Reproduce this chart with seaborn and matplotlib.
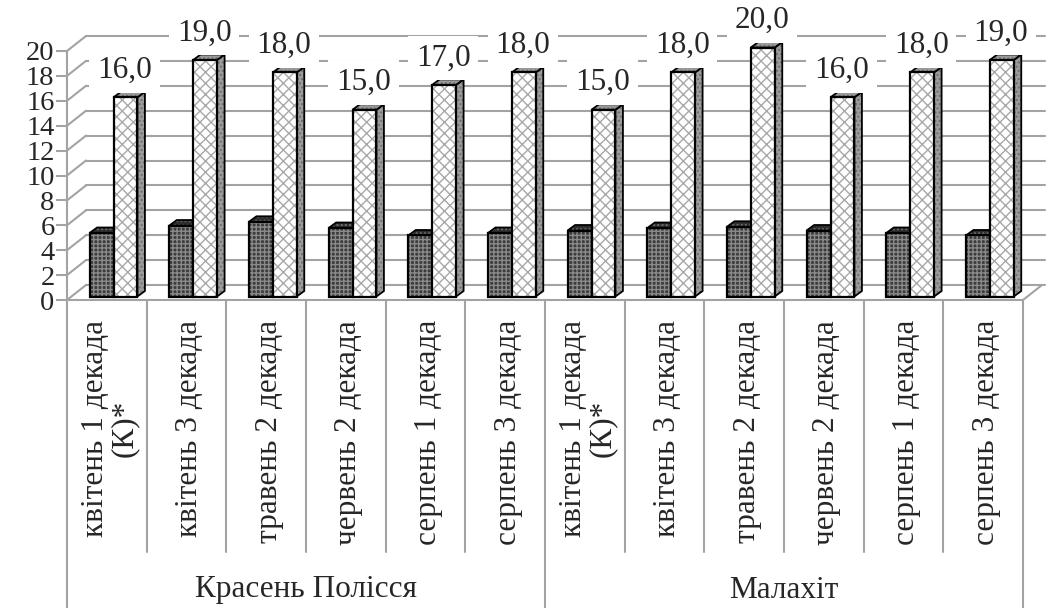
import numpy as np
import pandas as pd
import matplotlib
matplotlib.use("Agg")
import matplotlib.pyplot as plt
import matplotlib.transforms as mtransforms
from matplotlib.patches import Polygon, Rectangle
from matplotlib.lines import Line2D
import seaborn as sns

# ---- data ----
varieties = ["Красень Полісся", "Малахіт"]
periods = ["квітень 1 декада\n(К)*", "квітень 3 декада", "травень 2 декада",
           "червень 2 декада", "серпень 1 декада", "серпень 3 декада"]
series_names = ["Показник 1", "Показник 2"]
values_dark = [5.1, 5.7, 6.0, 5.5, 4.9, 5.1, 5.3, 5.5, 5.6, 5.3, 5.1, 4.9]
values_light = [16.0, 19.0, 18.0, 15.0, 17.0, 18.0, 15.0, 18.0, 20.0, 16.0, 18.0, 19.0]
y_ticks = list(range(0, 21, 2))

# long-form table for seaborn
keys = [f"{v}|{p}" for v in varieties for p in periods]
df = pd.DataFrame({
    "key": keys * 2,
    "series": [series_names[0]] * len(keys) + [series_names[1]] * len(keys),
    "value": values_dark + values_light,
})

sns.set_theme(style="white")
plt.rcParams["font.family"] = ["Liberation Serif", "DejaVu Serif"]

W, H, DPI = 1049, 608, 100
fig = plt.figure(figsize=(W / DPI, H / DPI), dpi=DPI)
ax = fig.add_axes([67 / W, (H - 300) / H, 956 / W, 249 / H])

sns.barplot(data=df, x="key", y="value", hue="series", order=keys,
            hue_order=series_names, palette=["#3a3a3a", "#ffffff"],
            width=0.6, legend=False, ax=ax, zorder=3)

n = len(keys)
x0 = -0.584
ax.set_xlim(x0, x0 + n)
ax.set_ylim(0, 20)
ax.set_yticks(y_ticks)
ax.set_yticklabels([str(t) for t in y_ticks], fontsize=20.5)
ax.set_xticks([])
ax.set_xlabel("")
ax.set_ylabel("")
for s in ["top", "right", "bottom"]:
    ax.spines[s].set_visible(False)
grid_c = "#a3a3a3"
ax.spines["left"].set_color(grid_c)
ax.spines["left"].set_linewidth(1.5)
ax.tick_params(axis="y", length=8, width=1.5, color=grid_c, pad=1, left=True)
ax.patch.set_alpha(0)

fig.canvas.draw()
ident = mtransforms.IdentityTransform()


def disp(x, y, dx=0.0, dy=0.0):
    px, py = ax.transData.transform((x, y))
    return px + dx, py + dy


# depth of the back wall in pixels
DX, DY = 19, 15
x_end_data = x0 + n
right_px = disp(x_end_data, 0)[0]

# back-wall gridlines and side-wall diagonals
for v in y_ticks:
    a = disp(x0, v)
    b = disp(x0, v, DX, DY)
    fig.add_artist(Line2D([a[0], b[0]], [a[1], b[1]], transform=ident,
                          color=grid_c, lw=1.5, zorder=1))
    fig.add_artist(Line2D([b[0], right_px + DX + 3], [b[1], b[1]], transform=ident,
                          color=grid_c, lw=1.5, zorder=1))

# floor front edge and right edge
f0 = disp(x0, 0)
f1 = disp(x_end_data, 0)
fig.add_artist(Line2D([f0[0], f1[0], f1[0] + DX], [f0[1], f1[1], f1[1] + DY],
                      transform=ident, color=grid_c, lw=1.5, zorder=2))

# 3D bar faces
BAR_SHIFT = 3.5  # bars stand slightly behind the front edge
SIDE, TOP = 7.5, 5.5
styles = {
    0: dict(face="#3c3c3c", hatch="++++", hcol="#8a8a8a", side="#5a5a5a", top="#2e2e2e"),
    1: dict(face="#ffffff", hatch="xxx", hcol="#a8a8a8", side="#9c9c9c", top="#9a9a9a"),
}
bars = [p for p in ax.patches if isinstance(p, Rectangle) and p.get_height() > 0]
bars = sorted(bars, key=lambda p: p.get_x())
for p in bars:
    p.set_visible(False)

for p in bars:
    x, w, h = p.get_x(), p.get_width(), p.get_height()
    fc = p.get_facecolor()
    sidx = 0 if fc[0] < 0.5 else 1
    st = styles[sidx]
    bl = disp(x, 0, 0, BAR_SHIFT)
    tr = disp(x + w, h, 0, BAR_SHIFT)
    # side face
    side = [(tr[0], bl[1]), (tr[0] + SIDE, bl[1] + TOP), (tr[0] + SIDE, tr[1] + TOP), (tr[0], tr[1])]
    # top face
    top = [(bl[0], tr[1]), (tr[0], tr[1]), (tr[0] + SIDE, tr[1] + TOP), (bl[0] + SIDE, tr[1] + TOP)]
    front = [(bl[0], bl[1]), (tr[0], bl[1]), (tr[0], tr[1]), (bl[0], tr[1])]
    zb = 4 if sidx == 0 else 5
    for poly, col in [(side, st["side"]), (top, st["top"])]:
        fig.add_artist(Polygon(poly, closed=True, transform=ident, facecolor=col,
                               edgecolor="none", zorder=zb))
        fig.add_artist(Polygon(poly, closed=True, transform=ident, fill=False,
                               hatch="....", edgecolor="#6e6e6e", lw=0, zorder=zb))
        fig.add_artist(Polygon(poly, closed=True, transform=ident, fill=False,
                               edgecolor="black", lw=1.3, zorder=zb))
    fig.add_artist(Polygon(front, closed=True, transform=ident, facecolor=st["face"],
                           edgecolor="none", zorder=zb))
    fig.add_artist(Polygon(front, closed=True, transform=ident, fill=False,
                           hatch=st["hatch"], edgecolor=st["hcol"], lw=0, zorder=zb))
    fig.add_artist(Polygon(front, closed=True, transform=ident, fill=False,
                           edgecolor="black", lw=1.6, zorder=zb))
    if sidx == 1:
        cx = (bl[0] + tr[0]) / 2 - 1
        fig.text(cx, tr[1] + 27, f"{h:.1f}".replace(".", ","), transform=ident,
                 ha="center", va="center", fontsize=22.5, zorder=6,
                 bbox=dict(boxstyle="square,pad=0.25", facecolor="white", edgecolor="none"))

# category axis: dividers, rotated labels, group labels
ytop_px = disp(x0, 0)[1]
for k in range(n + 1):
    xb = disp(x0 + k, 0)[0]
    bottom = 0 if k % len(periods) == 0 else ytop_px - 252
    fig.add_artist(Line2D([xb, xb], [ytop_px, bottom], transform=ident,
                          color=grid_c, lw=1.5, zorder=2))

for k in range(n):
    xc = disp(x0 + k + 0.5, 0)[0] + 3
    fig.text(xc, ytop_px - 20, periods[k % len(periods)], transform=ident,
             rotation=90, ha="center", va="top", multialignment="center",
             fontsize=22.5, linespacing=1.0)

for g, name in enumerate(varieties):
    xa = disp(x0 + g * len(periods), 0)[0]
    xb = disp(x0 + (g + 1) * len(periods), 0)[0]
    fig.text((xa + xb) / 2, ytop_px - 290, name, transform=ident,
             ha="center", va="center", fontsize=22.5)

fig.savefig("out.png", dpi=DPI)
